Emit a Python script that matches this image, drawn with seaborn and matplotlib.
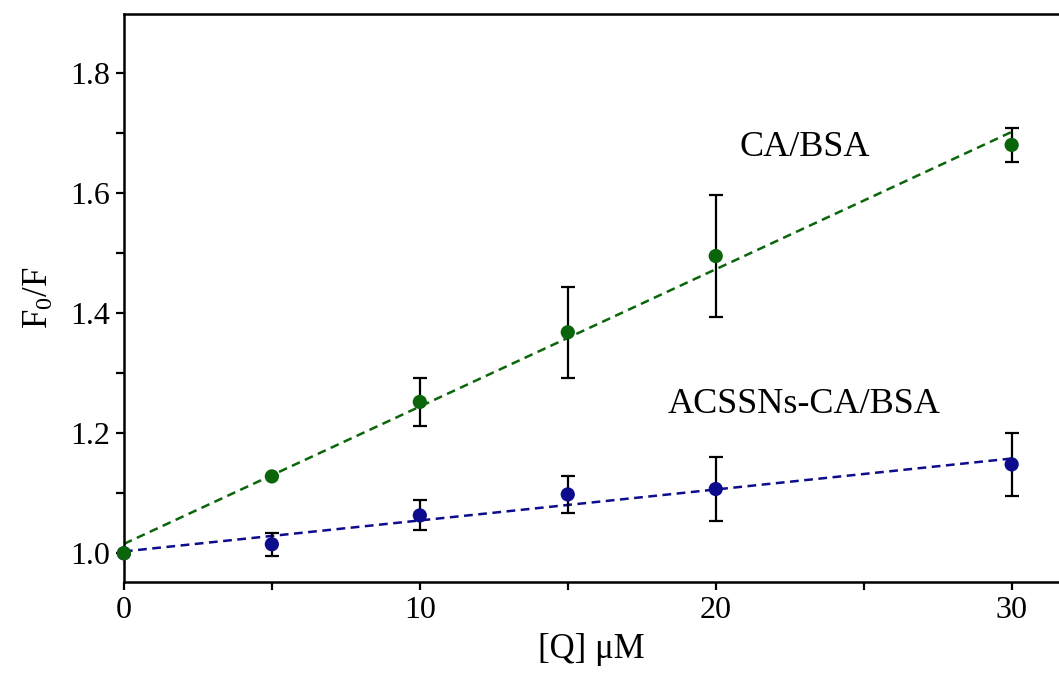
import numpy as np
import pandas as pd
import matplotlib
matplotlib.use("Agg")
import matplotlib.pyplot as plt
import seaborn as sns
from matplotlib.ticker import MultipleLocator

# Data
conc = [0, 5, 10, 15, 20, 30]
ca_bsa = [1.000, 1.128, 1.252, 1.368, 1.495, 1.680]
ca_bsa_err = [0.0, 0.0, 0.040, 0.076, 0.102, 0.028]
acssns = [1.000, 1.015, 1.063, 1.098, 1.107, 1.148]
acssns_err = [0.0, 0.019, 0.025, 0.031, 0.053, 0.053]

green = "#0b660b"
blue = "#0c0c8c"

sns.set_theme(style="ticks")
plt.rcParams["font.family"] = ["Liberation Serif", "DejaVu Serif"]
plt.rcParams["mathtext.fontset"] = "custom"
plt.rcParams["mathtext.rm"] = "Liberation Serif"
plt.rcParams["mathtext.it"] = "Liberation Serif:italic"
plt.rcParams["text.color"] = "black"
plt.rcParams["axes.labelcolor"] = "black"

df1 = pd.DataFrame({"x": conc, "y": ca_bsa, "e": ca_bsa_err})
df2 = pd.DataFrame({"x": conc, "y": acssns, "e": acssns_err})

fig = plt.figure(figsize=(10.59, 6.84), dpi=100)
ax = fig.add_axes([0.117, 0.149, 0.883, 0.8305])

for i, (df, c) in enumerate([(df2, blue), (df1, green)]):
    sns.regplot(data=df, x="x", y="y", ax=ax, scatter=False, ci=None,
                line_kws=dict(color=c, linestyle=(0, (3.5, 2.2)), linewidth=1.8, zorder=2))
    ax.errorbar(df["x"], df["y"], yerr=df["e"], fmt="none", ecolor="black",
                elinewidth=1.6, capsize=5, capthick=1.6, zorder=3)
    sns.scatterplot(data=df, x="x", y="y", ax=ax, color=c, s=105,
                    edgecolor="none", zorder=4 + i, clip_on=False)

ax.set_xlim(0, 31.6)
ax.set_ylim(0.952, 1.898)
ax.xaxis.set_major_locator(MultipleLocator(10))
ax.xaxis.set_minor_locator(MultipleLocator(5))
ax.yaxis.set_major_locator(MultipleLocator(0.2))
ax.yaxis.set_minor_locator(MultipleLocator(0.1))
ax.yaxis.set_major_formatter(matplotlib.ticker.FormatStrFormatter("%.1f"))

ax.tick_params(axis="both", which="major", direction="out", length=6, width=1.6,
               labelsize=23, colors="black", labelcolor="black", pad=4)
ax.tick_params(axis="both", which="minor", direction="out", length=6, width=1.6,
               colors="black")

for s in ["left", "bottom", "top"]:
    ax.spines[s].set_linewidth(1.8)
    ax.spines[s].set_color("black")
ax.spines["right"].set_visible(False)

ax.set_xlabel("[Q] μM", fontsize=25, labelpad=6, color="black")
ax.set_ylabel(r"F$_\mathregular{0}$/F", fontsize=25, labelpad=10, color="black")

ax.text(23.0, 1.675, "CA/BSA", fontsize=26, ha="center", va="center", color="black")
ax.text(23.0, 1.247, "ACSSNs-CA/BSA", fontsize=26, ha="center", va="center", color="black")

fig.savefig("out.png", dpi=100)
